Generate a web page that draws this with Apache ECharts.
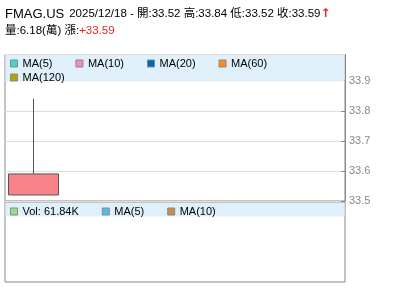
<!DOCTYPE html>
<html><head><meta charset="utf-8">
<script src="https://cdn.jsdelivr.net/npm/echarts@6/dist/echarts.min.js"></script>
<style>html,body{margin:0;padding:0;background:#fff}#c{width:400px;height:301px}</style>
</head><body><div id="c"></div>
<script>
var symbol = 'FMAG.US';
var dates = ['2025/12/18'];
var opens = [33.52];
var highs = [33.84];
var lows = [33.52];
var closes = [33.59];
var volumes = [61840];
var change = [33.59];
var maNames = ['MA(5)', 'MA(10)', 'MA(20)', 'MA(60)', 'MA(120)'];
var maColors = ['#3fd6cc', '#ff88bb', '#0066b8', '#ff8822', '#b3a400'];
var volMaNames = ['MA(5)', 'MA(10)'];
var volMaColors = ['#55bbee', '#c88f44'];
var priceTicks = [33.5, 33.6, 33.7, 33.8, 33.9];

var volName = 'Vol: ' + (volumes[0] / 1000).toFixed(2) + 'K';
var titleText = '{a|' + symbol + '} {b|' + dates[0] + ' - 開:' + opens[0].toFixed(2) + ' 高:' + highs[0].toFixed(2) +
  ' 低:' + lows[0].toFixed(2) + ' 收:' + closes[0].toFixed(2) + '}{r|↑}\n{b|量:' + (volumes[0] / 10000).toFixed(2) +
  '(萬) 漲:}{c|+' + change[0].toFixed(2) + '}';

var chart = echarts.init(document.getElementById('c'), null, {renderer: 'canvas'});
var ff = '"Liberation Sans", Arial, "Noto Sans CJK TC", sans-serif';

var series = [{
  type: 'candlestick', xAxisIndex: 0, yAxisIndex: 0, barWidth: 50,
  data: dates.map(function (d, i) { return [opens[i], closes[i], lows[i], highs[i]]; }),
  itemStyle: {color: '#fa8389', color0: '#6c6', borderColor: '#555', borderColor0: '#555', borderWidth: 1},
  z: 5
}];
maNames.forEach(function (n, i) {
  series.push({type: 'line', name: n, xAxisIndex: 0, yAxisIndex: 0, data: [], color: maColors[i], showSymbol: false});
});
series.push({type: 'bar', name: volName, xAxisIndex: 1, yAxisIndex: 1, data: [], color: '#99dd88'});
volMaNames.forEach(function (n, i) {
  series.push({type: 'line', name: 'v' + n, xAxisIndex: 1, yAxisIndex: 1, data: [], color: volMaColors[i], showSymbol: false});
});

var legendBase = {
  icon: 'rect', itemWidth: 7, itemHeight: 7, itemGap: 23, padding: 0, selectedMode: false,
  itemStyle: {borderColor: '#888', borderWidth: 1},
  textStyle: {fontSize: 11, color: '#000', fontFamily: ff}, z: 10
};

chart.setOption({
  animation: false,
  textStyle: {fontFamily: ff},
  title: {
    left: 5, top: 5, padding: 0,
    text: titleText,
    textStyle: {
      fontWeight: 'normal',
      rich: {
        a: {fontSize: 13, color: '#000', fontWeight: 'normal', fontFamily: ff, lineHeight: 15},
        b: {fontSize: 11.5, color: '#000', fontWeight: 'normal', fontFamily: ff, lineHeight: 15},
        r: {fontSize: 12, color: '#e22', fontWeight: 'bold', fontFamily: 'DejaVu Sans', lineHeight: 15},
        c: {fontSize: 11.5, color: '#e22', fontWeight: 'normal', fontFamily: ff, lineHeight: 15}
      }
    }
  },
  graphic: [
    {type: 'rect', shape: {x: 5.5, y: 55, width: 339, height: 26.5}, style: {fill: '#dff0fa'}, z: 3, silent: true},
    {type: 'rect', shape: {x: 5.5, y: 203, width: 339, height: 13.5}, style: {fill: '#dff0fa'}, z: 3, silent: true}
  ],
  legend: [
    Object.assign({}, legendBase, {left: 10, top: 58, data: maNames.slice(0, 4)}),
    Object.assign({}, legendBase, {left: 10, top: 72, data: maNames.slice(4)}),
    Object.assign({}, legendBase, {left: 10, top: 206, data: [volName].concat(volMaNames.map(function (n) { return 'v' + n; })),
      formatter: function (n) { return n.charAt(0) === 'v' && n.indexOf('MA') === 1 ? n.slice(1) : n; }})
  ],
  grid: [
    {left: 5, right: 55, top: 54.5, height: 146.5, show: true, borderColor: '#888', borderWidth: 1, backgroundColor: '#fff'},
    {left: 5, right: 55, top: 202, height: 80, show: true, borderColor: '#888', borderWidth: 1, backgroundColor: '#fff'}
  ],
  xAxis: [
    {type: 'category', gridIndex: 0, data: dates, min: 0, max: 5, boundaryGap: true,
      axisLine: {show: false}, axisTick: {show: false}, axisLabel: {show: false}, splitLine: {show: false}},
    {type: 'category', gridIndex: 1, data: dates, min: 0, max: 5, boundaryGap: true,
      axisLine: {show: false}, axisTick: {show: false}, axisLabel: {show: false}, splitLine: {show: false}}
  ],
  yAxis: [
    {type: 'value', gridIndex: 0, position: 'right', min: priceTicks[0], max: 33.987, interval: 0.1,
      axisLine: {show: true, lineStyle: {color: '#888'}},
      axisTick: {show: true, inside: true, length: 4, lineStyle: {color: '#888'}},
      axisLabel: {show: true, margin: 4, fontSize: 11, color: '#888', showMaxLabel: false,
        formatter: function (v) { return priceTicks.indexOf(Math.round(v * 10) / 10) >= 0 && Math.abs(v * 10 - Math.round(v * 10)) < 1e-6 ? v.toFixed(1) : ''; }},
      splitLine: {show: true, lineStyle: {color: '#ddd'}}},
    {type: 'value', gridIndex: 1, position: 'right', min: 0, max: 100000,
      axisLine: {show: false}, axisTick: {show: false}, axisLabel: {show: false}, splitLine: {show: false}}
  ],
  series: series
});
</script></body></html>
